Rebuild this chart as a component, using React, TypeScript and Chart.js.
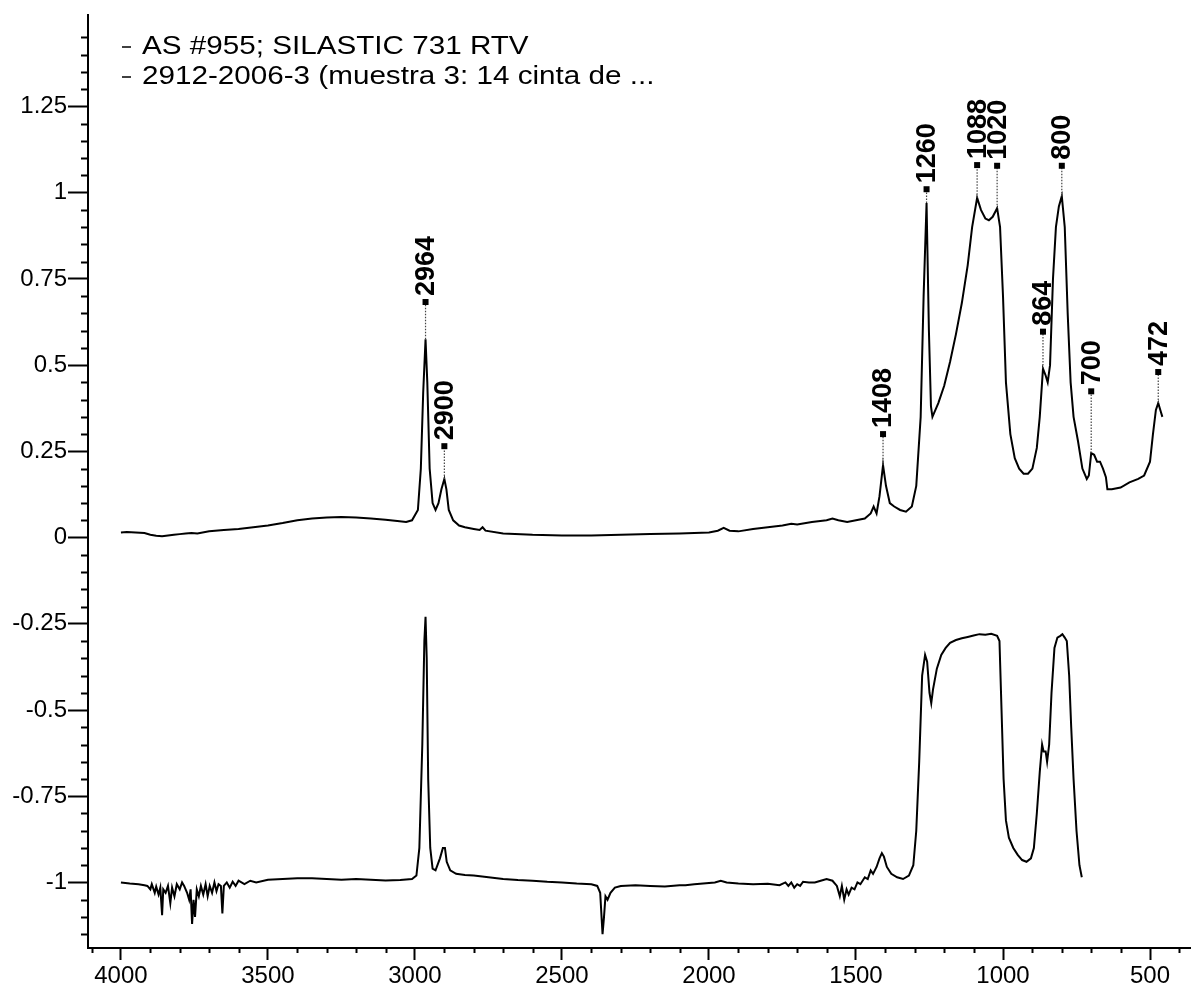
import React, { useEffect, useRef } from "react";
import { Chart, registerables } from "chart.js";

Chart.register(...registerables);

const FONT = "'Liberation Sans', Arial, Helvetica, sans-serif";

const seriesLabels = [
  "AS #955; SILASTIC 731 RTV",
  "2912-2006-3 (muestra 3: 14 cinta de ...",
];

// Upper spectrum (reference)
const topWn = [
  4000, 3980, 3950, 3920, 3900, 3880, 3860, 3840, 3820, 3800, 3780, 3760, 3740, 3700, 3650, 3600,
  3550, 3500, 3450, 3400, 3350, 3300, 3250, 3200, 3150, 3100, 3060, 3030, 3010, 2990, 2980, 2972,
  2964, 2958, 2950, 2940, 2930, 2920, 2910, 2900, 2893, 2885, 2870, 2850, 2830, 2800, 2780, 2770,
  2760, 2700, 2600, 2500, 2400, 2300, 2200, 2100, 2000, 1970, 1950, 1930, 1900, 1850, 1800, 1750,
  1720, 1700, 1650, 1600, 1580, 1560, 1530, 1500, 1470, 1450, 1440, 1430, 1420, 1408, 1398, 1385,
  1370, 1350, 1330, 1310, 1295, 1280, 1270, 1260, 1252, 1245, 1240, 1220, 1200, 1180, 1160, 1140,
  1120, 1105, 1088, 1075, 1060, 1048, 1035, 1020, 1010, 1000, 990, 975, 960, 945, 930, 915, 900,
  885, 875, 864, 855, 848, 840, 830, 820, 810, 800, 790, 780, 770, 760, 745, 730, 715, 708, 700,
  690, 680, 670, 660, 650, 645, 630, 600, 570, 540, 520, 500, 490, 480, 472, 465, 458,
];
const topAbs = [
  0.015, 0.016, 0.015, 0.013, 0.008, 0.005, 0.004, 0.006, 0.008, 0.01, 0.012, 0.013, 0.012, 0.018, 0.022, 0.025,
  0.03, 0.035, 0.042, 0.05, 0.055, 0.058, 0.06, 0.058, 0.055, 0.052, 0.048, 0.045, 0.05, 0.08, 0.2, 0.42,
  0.575, 0.45, 0.2, 0.1, 0.08, 0.1, 0.14, 0.17, 0.14, 0.08, 0.05, 0.035, 0.03, 0.025, 0.022, 0.03,
  0.02, 0.012, 0.008, 0.006, 0.006, 0.008, 0.01, 0.012, 0.015, 0.02, 0.028, 0.02, 0.018, 0.025, 0.03, 0.035,
  0.04, 0.038, 0.045, 0.05, 0.055, 0.05, 0.045, 0.05, 0.055, 0.07, 0.09, 0.07, 0.12, 0.21, 0.15, 0.1,
  0.09, 0.08, 0.075, 0.09, 0.15, 0.35, 0.7, 0.97, 0.6, 0.38, 0.35, 0.39, 0.44, 0.51, 0.59, 0.68,
  0.79, 0.9, 0.985, 0.95, 0.925, 0.92, 0.93, 0.955, 0.9, 0.7, 0.45, 0.3, 0.23, 0.2, 0.185, 0.185, 0.2,
  0.26, 0.35, 0.49, 0.47, 0.45, 0.5, 0.75, 0.9, 0.96, 0.99, 0.9, 0.65, 0.45, 0.35, 0.28, 0.2, 0.17, 0.18, 0.245,
  0.24, 0.22, 0.22, 0.2, 0.175, 0.14, 0.14, 0.145, 0.16, 0.17, 0.18, 0.22, 0.3, 0.37, 0.39, 0.37, 0.35,
];

// Lower spectrum (sample)
const botWn = [
  4000, 3970, 3940, 3920, 3910, 3900, 3895, 3885, 3880, 3872, 3866, 3860, 3856, 3848, 3840, 3832,
  3826, 3818, 3810, 3800, 3792, 3785, 3775, 3768, 3763, 3758, 3753, 3748, 3742, 3735, 3728, 3720,
  3712, 3705, 3698, 3690, 3682, 3675, 3668, 3660, 3655, 3650, 3640, 3630, 3620, 3610, 3600, 3580,
  3560, 3540, 3500, 3450, 3400, 3350, 3300, 3250, 3200, 3150, 3100, 3050, 3010, 2995, 2985, 2975,
  2968, 2964, 2960, 2955, 2948, 2940, 2930, 2915, 2905, 2898, 2892, 2880, 2860, 2830, 2800, 2750,
  2700, 2650, 2600, 2550, 2500, 2450, 2400, 2380, 2370, 2362, 2357, 2352, 2345, 2335, 2320, 2300,
  2250, 2200, 2150, 2100, 2080, 2050, 1980, 1960, 1940, 1900, 1850, 1800, 1760, 1740, 1730, 1720,
  1710, 1700, 1690, 1680, 1660, 1640, 1620, 1600, 1580, 1565, 1555, 1548, 1540, 1532, 1525, 1515,
  1505, 1495, 1485, 1470, 1460, 1450, 1442, 1430, 1420, 1412, 1405, 1395, 1380, 1360, 1340, 1320,
  1305, 1295, 1285, 1275, 1265, 1258, 1250, 1244, 1238, 1225, 1210, 1195, 1180, 1160, 1140, 1120,
  1100, 1080, 1060, 1040, 1020, 1012, 1005, 998, 990, 980, 965, 950, 935, 920, 905, 895, 885, 875,
  867, 862, 855, 850, 843, 835, 825, 815, 805, 798, 790, 783, 775, 768, 760, 750, 740, 732,
];
const botAbs = [
  -1.0, -1.003, -1.005, -1.008, -1.01, -1.02, -1.005, -1.03, -1.012, -1.035, -1.015, -1.095, -1.02, -1.03, -1.01, -1.06,
  -1.015, -1.04, -1.005, -1.02, -1.0, -1.01, -1.03, -1.05, -1.02, -1.12, -1.05, -1.1, -1.02, -1.04, -1.01, -1.035,
  -1.005, -1.04, -1.01, -1.03, -1.0, -1.025, -1.005, -1.01, -1.09, -1.01, -1.0, -1.015, -0.998, -1.01, -0.995, -1.005,
  -0.995, -1.0, -0.992, -0.99, -0.988, -0.988, -0.99, -0.992, -0.99, -0.992, -0.994, -0.993, -0.99, -0.98, -0.9, -0.6,
  -0.3, -0.23, -0.35, -0.7, -0.9, -0.96, -0.965, -0.93, -0.9, -0.9, -0.94, -0.965, -0.975, -0.978, -0.98, -0.985,
  -0.99, -0.993, -0.995, -0.998, -1.0, -1.003, -1.005, -1.01, -1.03, -1.15, -1.1, -1.04, -1.05, -1.03, -1.015, -1.01,
  -1.008, -1.01, -1.012, -1.008, -1.008, -1.005, -1.0, -0.995, -1.0, -1.003, -1.005, -1.004, -1.008, -1.0, -1.01, -1.0,
  -1.015, -1.005, -1.01, -0.998, -1.0, -1.0, -0.995, -0.99, -0.995, -1.01, -1.04, -1.01, -1.05, -1.02, -1.035, -1.015,
  -1.02, -1.0, -1.005, -0.985, -0.99, -0.965, -0.975, -0.955, -0.93, -0.915, -0.925, -0.955, -0.975, -0.985, -0.99, -0.98,
  -0.95, -0.85, -0.65, -0.4, -0.34, -0.36, -0.45, -0.48, -0.44, -0.38, -0.34, -0.32, -0.305, -0.297, -0.292, -0.288,
  -0.284, -0.28, -0.282, -0.279, -0.285, -0.3, -0.5, -0.7, -0.82, -0.87, -0.9, -0.92, -0.935, -0.94, -0.93, -0.9, -0.8, -0.68,
  -0.6, -0.62, -0.62, -0.65, -0.6, -0.45, -0.32, -0.29, -0.285, -0.28, -0.29, -0.3, -0.4, -0.55, -0.7, -0.85, -0.95, -0.985,
];

// Peak annotations on the upper spectrum
const peakWn = [2964, 2900, 1408, 1260, 1088, 1020, 864, 800, 700, 472];
const peakTip = [0.575, 0.17, 0.21, 0.97, 0.985, 0.955, 0.49, 0.99, 0.245, 0.39];
const peakMark = [0.683, 0.265, 0.30, 1.01, 1.08, 1.078, 0.597, 1.078, 0.424, 0.48];

const xTicks = [4000, 3500, 3000, 2500, 2000, 1500, 1000, 500];
const yTicks = [1.25, 1, 0.75, 0.5, 0.25, 0, -0.25, -0.5, -0.75, -1];

const X_MIN = 364;
const X_MAX = 4112;
const Y_MIN = -1.19;
const Y_MAX = 1.514;

const decorPlugin = {
  id: "decor",
  afterDraw(chart: any) {
    const ctx = chart.ctx;
    const xs = chart.scales.x;
    const ys = chart.scales.y;
    const area = chart.chartArea;
    ctx.save();
    ctx.strokeStyle = "#000";
    ctx.fillStyle = "#000";
    ctx.lineWidth = 2;
    // minor y ticks
    for (let i = Math.ceil(Y_MIN / 0.05); i * 0.05 <= Y_MAX + 1e-9; i++) {
      if (i % 5 === 0) continue;
      const py = Math.round(ys.getPixelForValue(i * 0.05)) + 0.5;
      ctx.beginPath();
      ctx.moveTo(area.left - 7, py);
      ctx.lineTo(area.left, py);
      ctx.stroke();
    }
    // minor x ticks
    for (let v = 400; v <= 4100; v += 100) {
      if (v % 500 === 0) continue;
      const px = Math.round(xs.getPixelForValue(v)) + 0.5;
      ctx.beginPath();
      ctx.moveTo(px, area.bottom);
      ctx.lineTo(px, area.bottom + 5);
      ctx.stroke();
    }
    // legend
    ctx.textBaseline = "middle";
    ctx.textAlign = "left";
    seriesLabels.forEach((lab, i) => {
      const cy = 47 + i * 30;
      ctx.lineWidth = 1.5;
      ctx.beginPath();
      ctx.moveTo(122, cy);
      ctx.lineTo(131, cy);
      ctx.stroke();
      ctx.save();
      ctx.translate(142, cy);
      ctx.scale(1.14, 1);
      ctx.font = `26px ${FONT}`;
      ctx.fillText(lab, 0, 0);
      ctx.restore();
    });
    // peak labels
    ctx.font = `bold 27px ${FONT}`;
    peakWn.forEach((wn, i) => {
      const px = xs.getPixelForValue(wn);
      const pTip = ys.getPixelForValue(peakTip[i]);
      const pMark = ys.getPixelForValue(peakMark[i]);
      ctx.save();
      ctx.strokeStyle = "#444";
      ctx.lineWidth = 1.2;
      ctx.setLineDash([1.5, 1.5]);
      ctx.beginPath();
      ctx.moveTo(px, pTip);
      ctx.lineTo(px, pMark);
      ctx.stroke();
      ctx.restore();
      ctx.fillRect(px - 3, pMark - 3, 6, 6);
      ctx.save();
      ctx.translate(px, pMark - 6);
      ctx.rotate(-Math.PI / 2);
      ctx.textAlign = "left";
      ctx.textBaseline = "middle";
      ctx.fillText(String(wn), 0, 1);
      ctx.restore();
    });
    ctx.restore();
  },
};

function fmt(v: number) {
  return String(Number(v.toFixed(2)));
}

export default function App() {
  const ref = useRef<HTMLCanvasElement | null>(null);
  useEffect(() => {
    document.body.style.margin = "0";
    const canvas = ref.current;
    if (!canvas) return;
    const chart = new Chart(canvas, {
      type: "line",
      data: {
        datasets: [
          {
            label: seriesLabels[0],
            data: topWn.map((x, i) => ({ x, y: topAbs[i] })),
            borderColor: "#000",
            borderWidth: 2,
            pointRadius: 0,
            tension: 0,
          },
          {
            label: seriesLabels[1],
            data: botWn.map((x, i) => ({ x, y: botAbs[i] })),
            borderColor: "#000",
            borderWidth: 2,
            pointRadius: 0,
            tension: 0,
          },
        ],
      },
      options: {
        animation: false,
        responsive: false,
        devicePixelRatio: 1,
        layout: { padding: { top: 12, right: 7, left: 0, bottom: 0 } },
        plugins: {
          legend: { display: false },
          tooltip: { enabled: false },
        },
        scales: {
          x: {
            type: "linear",
            reverse: true,
            min: X_MIN,
            max: X_MAX,
            afterBuildTicks: (s: any) => {
              s.ticks = xTicks.map((v) => ({ value: v }));
            },
            afterFit: (s: any) => {
              s.height = 44;
            },
            grid: {
              drawOnChartArea: false,
              drawTicks: true,
              tickLength: 12,
              tickColor: "#000",
              tickWidth: 2,
            },
            border: { display: true, color: "#000", width: 2 },
            ticks: {
              autoSkip: false,
              maxRotation: 0,
              padding: 2,
              color: "#000",
              font: { size: 24, family: FONT },
              callback: (v: any) => fmt(Number(v)),
            },
          },
          y: {
            type: "linear",
            min: Y_MIN,
            max: Y_MAX,
            afterBuildTicks: (s: any) => {
              s.ticks = yTicks.map((v) => ({ value: v }));
            },
            afterFit: (s: any) => {
              s.width = 88;
            },
            grid: {
              drawOnChartArea: false,
              drawTicks: true,
              tickLength: 20,
              tickColor: "#000",
              tickWidth: 2,
            },
            border: { display: true, color: "#000", width: 2 },
            ticks: {
              autoSkip: false,
              padding: 1,
              color: "#000",
              font: { size: 24, family: FONT },
              callback: (v: any) => fmt(Number(v)),
            },
          },
        },
      },
      plugins: [decorPlugin],
    });
    return () => chart.destroy();
  }, []);
  return (
    <div style={{ width: 1197, height: 992, background: "#fff" }}>
      <canvas ref={ref} width={1197} height={992} style={{ display: "block" }} />
    </div>
  );
}
